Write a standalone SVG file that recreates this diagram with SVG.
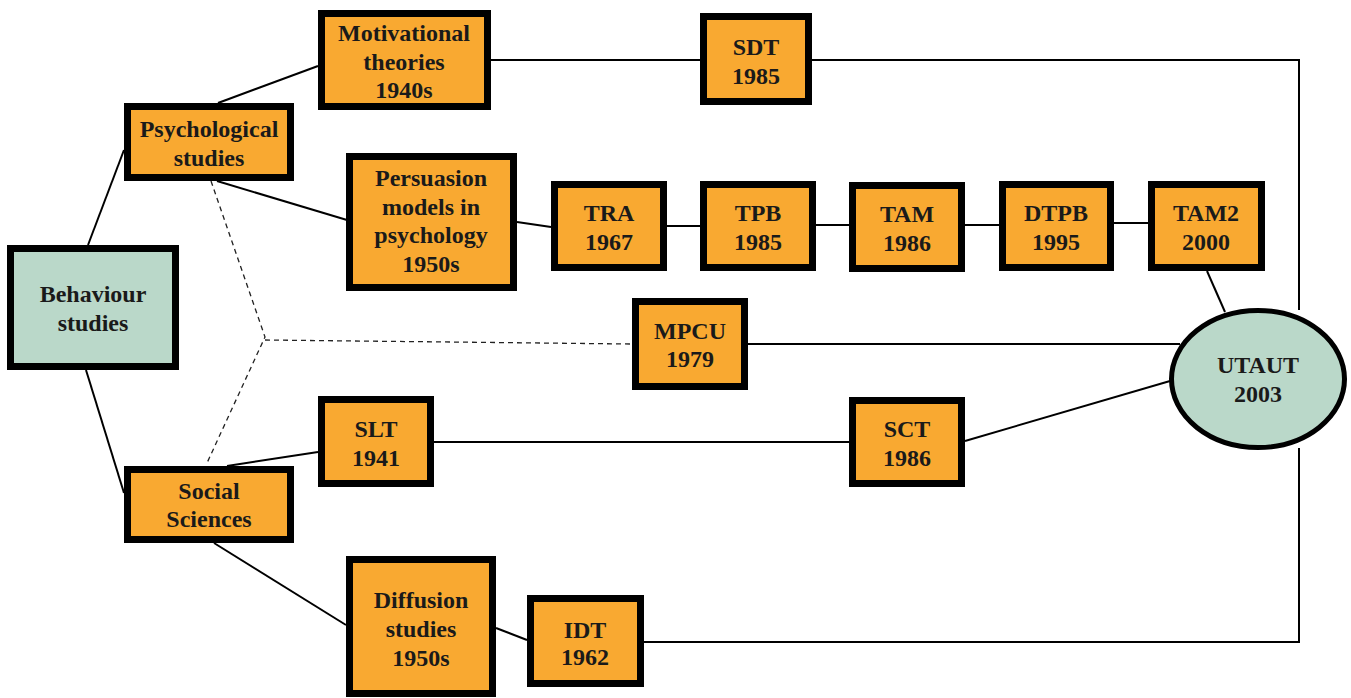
<svg xmlns="http://www.w3.org/2000/svg" width="1351" height="698" viewBox="0 0 1351 698">
<style>
.box{fill:#F9A931;stroke:#000;stroke-width:7}
.gbox{fill:#BAD8C9;stroke:#000;stroke-width:7}
.ell{fill:#BAD8C9;stroke:#000;stroke-width:5}
text{font-family:"Liberation Serif","Times New Roman",serif;font-weight:bold;font-size:24px;fill:#1a1a1a;text-anchor:middle}
.ln{stroke:#000;stroke-width:2;fill:none}
.dash{stroke:#222;stroke-width:1.3;fill:none;stroke-dasharray:5 4}
</style>
<rect width="1351" height="698" fill="#fff"/>
<g id="connectors">
<line class="ln" x1="88" y1="245" x2="124" y2="150"/>
<line class="ln" x1="86" y1="370" x2="124" y2="493"/>
<line class="ln" x1="218" y1="103" x2="318" y2="66"/>
<line class="ln" x1="217" y1="181" x2="347" y2="220"/>
<line class="ln" x1="517" y1="222" x2="551" y2="227"/>
<line class="ln" x1="667" y1="226" x2="700" y2="226"/>
<line class="ln" x1="816" y1="225" x2="849" y2="225"/>
<line class="ln" x1="965" y1="225" x2="999" y2="225"/>
<line class="ln" x1="1114" y1="223" x2="1148" y2="223"/>
<line class="ln" x1="1207" y1="271" x2="1225" y2="312"/>
<line class="ln" x1="748" y1="344" x2="1180" y2="344"/>
<line class="ln" x1="227" y1="466" x2="318" y2="452"/>
<line class="ln" x1="434" y1="442" x2="849" y2="442"/>
<line class="ln" x1="965" y1="441" x2="1170" y2="381"/>
<line class="ln" x1="214" y1="543" x2="346" y2="625"/>
<line class="ln" x1="496" y1="628" x2="527" y2="640"/>
<polyline class="ln" points="491,60 700,60"/>
<polyline class="ln" points="812,60 1299,60 1299,310"/>
<polyline class="ln" points="1299,448 1299,642 644,642"/>
<polyline class="dash" points="211,181 265,337 207,463"/>
<polyline class="dash" points="265,340 632,344"/>
</g>
<g id="behaviour"><rect class="gbox" x="10.5" y="248.5" width="165" height="118"/><text x="93" y="302">Behaviour</text><text x="93" y="331">studies</text></g>
<g id="psychological"><rect class="box" x="127.5" y="106.5" width="163" height="71"/><text x="209" y="137">Psychological</text><text x="209" y="166">studies</text></g>
<g id="social"><rect class="box" x="127.5" y="469.5" width="163" height="70"/><text x="209" y="499">Social</text><text x="209" y="527">Sciences</text></g>
<g id="motivational"><rect class="box" x="321.5" y="13.5" width="166" height="93"/><text x="404" y="41">Motivational</text><text x="404" y="70">theories</text><text x="404" y="98">1940s</text></g>
<g id="persuasion"><rect class="box" x="349.5" y="156.5" width="164" height="131"/><text x="431" y="186">Persuasion</text><text x="431" y="215">models in</text><text x="431" y="243">psychology</text><text x="431" y="272">1950s</text></g>
<g id="slt"><rect class="box" x="321.5" y="399.5" width="109" height="84"/><text x="376" y="437">SLT</text><text x="376" y="466">1941</text></g>
<g id="diffusion"><rect class="box" x="349.5" y="559.5" width="143" height="134"/><text x="421" y="608">Diffusion</text><text x="421" y="637">studies</text><text x="421" y="666">1950s</text></g>
<g id="sdt"><rect class="box" x="703.5" y="16.5" width="105" height="85"/><text x="756" y="55">SDT</text><text x="756" y="84">1985</text></g>
<g id="tra"><rect class="box" x="554.5" y="184.5" width="109" height="83"/><text x="609" y="221">TRA</text><text x="609" y="250">1967</text></g>
<g id="tpb"><rect class="box" x="703.5" y="184.5" width="109" height="83"/><text x="758" y="221">TPB</text><text x="758" y="250">1985</text></g>
<g id="tam"><rect class="box" x="852.5" y="185.5" width="109" height="83"/><text x="907" y="222">TAM</text><text x="907" y="251">1986</text></g>
<g id="dtpb"><rect class="box" x="1002.5" y="184.5" width="108" height="83"/><text x="1056" y="221">DTPB</text><text x="1056" y="250">1995</text></g>
<g id="tam2"><rect class="box" x="1151.5" y="184.5" width="110" height="83"/><text x="1206" y="221">TAM2</text><text x="1206" y="250">2000</text></g>
<g id="mpcu"><rect class="box" x="635.5" y="301.5" width="109" height="85"/><text x="690" y="339">MPCU</text><text x="690" y="367">1979</text></g>
<g id="sct"><rect class="box" x="852.5" y="400.5" width="109" height="83"/><text x="907" y="437">SCT</text><text x="907" y="466">1986</text></g>
<g id="idt"><rect class="box" x="530.5" y="598.5" width="110" height="85"/><text x="585" y="638">IDT</text><text x="585" y="665">1962</text></g>
<g id="utaut"><ellipse class="ell" cx="1258" cy="379" rx="86.5" ry="68.5"/><text x="1258" y="373">UTAUT</text><text x="1258" y="402">2003</text></g>
</svg>
